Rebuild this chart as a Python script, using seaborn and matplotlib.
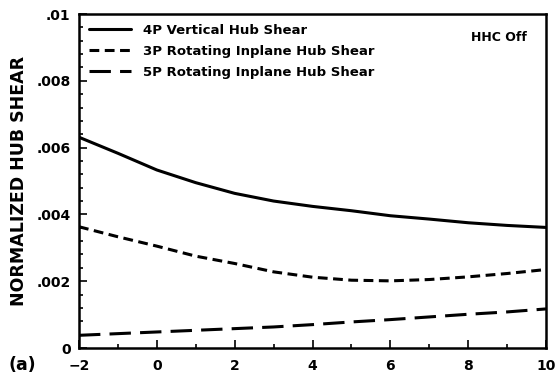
import matplotlib
matplotlib.use("Agg")
import matplotlib.pyplot as plt
import seaborn as sns
import pandas as pd
from matplotlib.ticker import MultipleLocator, FixedLocator

sns.set_theme(style="ticks")
plt.rcParams['font.family'] = ['DejaVu Sans']
plt.rcParams['text.color'] = 'black'
plt.rcParams['xtick.color'] = 'black'
plt.rcParams['ytick.color'] = 'black'
plt.rcParams['axes.labelcolor'] = 'black'

x_vals = [-2, -1, 0, 1, 2, 3, 4, 5, 6, 7, 8, 9, 10]
shear_4p = [0.00631, 0.00583, 0.00533, 0.00495, 0.00463, 0.00440, 0.00424,
            0.00411, 0.00396, 0.00386, 0.00375, 0.00367, 0.00361]
shear_3p = [0.00363, 0.00333, 0.00305, 0.00275, 0.00253, 0.00228, 0.00212,
            0.00203, 0.00201, 0.00205, 0.00213, 0.00223, 0.00235]
shear_5p = [0.00038, 0.00043, 0.00048, 0.00053, 0.00058, 0.00063, 0.00070,
            0.00078, 0.00085, 0.00093, 0.00101, 0.00108, 0.00117]
labels = ["4P Vertical Hub Shear", "3P Rotating Inplane Hub Shear", "5P Rotating Inplane Hub Shear"]
yticks = [0, 0.002, 0.004, 0.006, 0.008, 0.01]
ytick_labels = ["0", ".002", ".004", ".006", ".008", ".01"]

df = pd.concat([
    pd.DataFrame({"x": x_vals, "y": shear_4p, "s": labels[0]}),
    pd.DataFrame({"x": x_vals, "y": shear_3p, "s": labels[1]}),
    pd.DataFrame({"x": x_vals, "y": shear_5p, "s": labels[2]}),
])

fig = plt.figure(figsize=(5.57, 3.79), dpi=100)
ax = fig.add_axes([79/557, 1-348/379, (546-79)/557, (348-14)/379])

for lab, dash in zip(labels, [(), (3.2, 1.8), (7, 3)]):
    sub = df[df.s == lab]
    sns.lineplot(data=sub, x="x", y="y", ax=ax, color="black", lw=2.2,
                 label=lab, estimator=None)
    if dash:
        ax.lines[-1].set_dashes(dash)

ax.set_xlim(-2, 10)
ax.set_ylim(0, 0.01)
ax.xaxis.set_major_locator(MultipleLocator(2))
ax.xaxis.set_minor_locator(MultipleLocator(1))
ax.yaxis.set_major_locator(FixedLocator(yticks))
ax.set_yticklabels(ytick_labels)
ax.yaxis.set_minor_locator(MultipleLocator(0.0004))
ax.tick_params(which="both", direction="in", color="black", width=1.2)
ax.tick_params(which="major", length=6, labelsize=10)
ax.tick_params(which="minor", length=3)
ax.tick_params(axis="x", which="major", pad=8)
ax.tick_params(axis="y", which="major", pad=6)
for lbl in ax.get_xticklabels() + ax.get_yticklabels():
    lbl.set_fontweight("bold")
for sp in ax.spines.values():
    sp.set_linewidth(1.8)
    sp.set_color("black")
ax.set_xlabel("")
ax.set_ylabel("NORMALIZED HUB SHEAR", fontsize=12.5, fontweight="bold", labelpad=6)

leg = ax.legend(loc="upper left", frameon=False, handlelength=3.2, handletextpad=0.9,
                borderaxespad=0.35, labelspacing=0.6, prop={"weight": "bold", "size": 9.5})
ax.text(0.96, 0.93, "HHC Off", transform=ax.transAxes, ha="right", va="center",
        fontsize=9, fontweight="bold")
fig.text(8/557, 1-365/379, "(a)", fontsize=12.5, fontweight="bold", va="center")

fig.savefig("out.png", dpi=100, facecolor="white")
